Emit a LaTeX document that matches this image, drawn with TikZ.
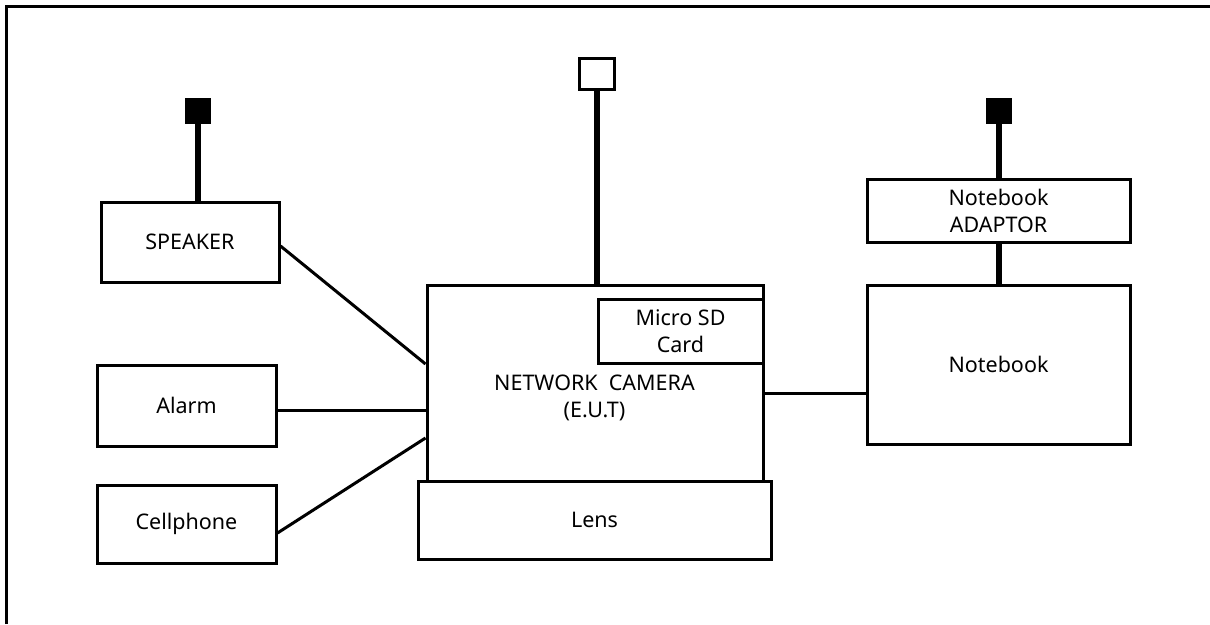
\documentclass[tikz,border=0pt]{standalone}
\usepackage{fontspec}
\setmainfont{Noto Sans}
\newcommand{\lblfont}{\fontsize{21.5}{27}\selectfont}
\begin{document}
\begin{tikzpicture}[x=1pt,y=-1pt,
  box/.style={draw,line width=3pt,inner sep=0pt,align=center,font=\lblfont},
  lbl/.style={inner sep=0pt,align=center,font=\lblfont},
  plugfill/.style={fill=black,draw=none,minimum size=26pt,inner sep=0pt},
  plugopen/.style={draw,fill=white,line width=3pt,inner sep=0pt,minimum width=35pt,minimum height=31pt},
  wire/.style={line width=3pt},
  power/.style={line width=6pt}]
\useasboundingbox (0,0) rectangle (1210,624);
% frame (only top and left edges visible)
\draw[line width=3pt] (6.5,624) -- (6.5,6.5) -- (1210,6.5);

% boxes
\node[box,minimum width=178pt,minimum height=80pt] (spk) at (190,242) {SPEAKER};
\node[box,minimum width=179pt,minimum height=81pt] (alarm) at (186.5,405.5) {Alarm};
\node[box,minimum width=179pt,minimum height=78pt] (cell) at (186.5,524) {Cellphone};
\node[box,minimum width=336pt,minimum height=196pt] (cam) at (595,383) {};
\node[lbl] (camtext) at (594.5,398) {NETWORK\ \ CAMERA\\(E.U.T)};
\node[box,minimum width=165pt,minimum height=64pt] (sd) at (680.5,331) {Micro SD\\Card};
\node[box,fill=white,minimum width=353pt,minimum height=78pt] (lens) at (594.5,520) {Lens};
\node[box,minimum width=263pt,minimum height=159pt] (nb) at (998.5,364.5) {Notebook};
\node[box,minimum width=263pt,minimum height=63pt] (adp) at (998.5,210.5) {Notebook\\ADAPTOR};

% plugs
\node[plugfill] (plugL) at (198,111) {};
\node[plugopen] (plugC) at (596.5,74) {};
\node[plugfill] (plugR) at (998.5,111) {};

% helper coordinates for connector heights
\coordinate (ySpkA) at (0,246);
\coordinate (ySpkB) at (0,364);
\coordinate (yAlarm) at (0,410);
\coordinate (yCellA) at (0,533);
\coordinate (yCellB) at (0,438);
\coordinate (yNb) at (0,393);

% power cords
\draw[power] (plugL.south) -- (spk.north -| plugL);
\draw[power] (plugC.south) -- (cam.north -| plugC);
\draw[power] (plugR.south) -- (adp.north -| plugR);
\draw[power] (adp.south -| plugR) -- (nb.north -| plugR);

% signal wires
\draw[wire] (spk.east |- ySpkA) -- (cam.west |- ySpkB);
\draw[wire] (alarm.east |- yAlarm) -- (cam.west |- yAlarm);
\draw[wire] (cell.east |- yCellA) -- (cam.west |- yCellB);
\draw[wire] (cam.east |- yNb) -- (nb.west |- yNb);
\end{tikzpicture}
\end{document}
